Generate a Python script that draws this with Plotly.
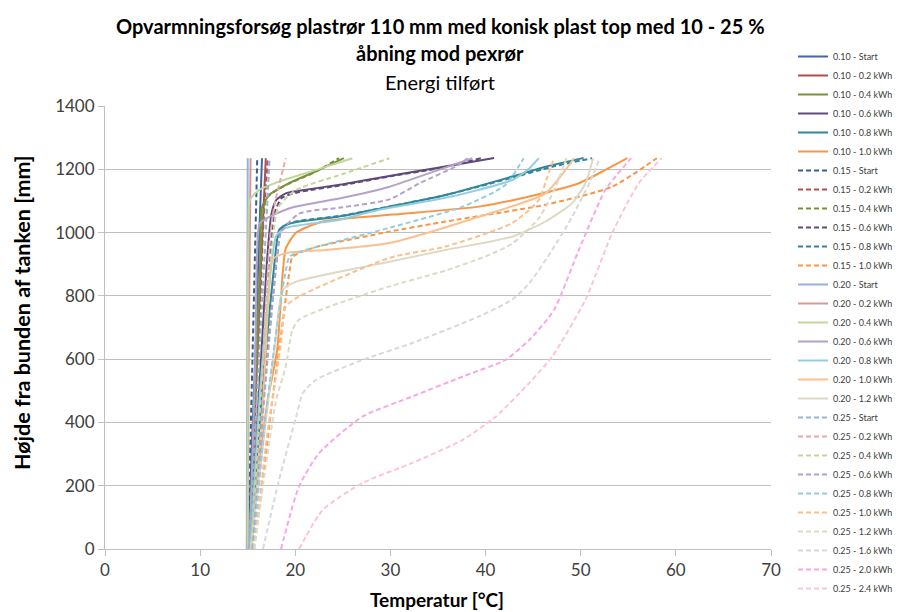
import plotly.graph_objects as go

# Temperature profiles: temperature [°C] (t_) at height above tank bottom [mm] (h_)
# 10 % opening
t_010_start = [15.1, 15.4, 15.8, 16.1, 16.5]
h_010_start = [0, 300, 600, 900, 1235]
t_010_02 = [15.2, 15.6, 16.0, 16.4, 16.7, 16.9]
h_010_02 = [0, 300, 600, 900, 1100, 1235]
t_010_04 = [15.2, 15.5, 15.9, 16.3, 16.5, 17.3, 19.4, 22.5, 25.1]
h_010_04 = [0, 300, 600, 900, 1080, 1120, 1157, 1198, 1235]
t_010_06 = [15.3, 15.8, 16.4, 17.0, 17.5, 18.0, 19.0, 20.4, 25.0, 29.9, 35.0, 40.9]
h_010_06 = [0, 300, 600, 900, 1060, 1103, 1124, 1132, 1153, 1179, 1205, 1236]
t_010_08 = [15.4, 16.0, 16.8, 17.8, 18.3, 19.0, 20.4, 24.6, 29.9, 35.8, 42.8, 46.3, 50.3]
h_010_08 = [0, 300, 600, 900, 1008, 1024, 1035, 1051, 1082, 1119, 1177, 1208, 1236]
t_010_10 = [15.4, 16.0, 17.1, 18.1, 18.7, 19.0, 20.1, 22.9, 29.9, 39.3, 44.6, 49.8, 52.6, 54.9]
h_010_10 = [0, 200, 470, 630, 880, 950, 1000, 1035, 1056, 1082, 1114, 1156, 1198, 1235]

# 15 % opening
t_015_start = [15.0, 15.5, 16.0]
h_015_start = [0, 600, 1235]
t_015_02 = [15.3, 16.1, 16.6, 17.1]
h_015_02 = [0, 600, 1000, 1235]
t_015_04 = [15.3, 16.0, 16.6, 17.0, 19.0, 22.0, 24.6]
h_015_04 = [0, 600, 1050, 1110, 1150, 1190, 1235]
t_015_06 = [15.4, 16.4, 17.3, 17.8, 18.6, 20.4, 25.0, 30.0, 35.0, 39.5]
h_015_06 = [0, 500, 900, 1060, 1110, 1128, 1150, 1178, 1203, 1235]
t_015_08 = [15.5, 16.7, 18.0, 18.5, 19.2, 20.6, 25.0, 30.0, 36.0, 43.0, 47.0, 51.2]
h_015_08 = [0, 500, 900, 1010, 1028, 1038, 1054, 1083, 1120, 1175, 1208, 1235]
t_015_10 = [15.6, 16.5, 17.5, 18.6, 19.4, 19.7, 21.8, 29.9, 35.8, 46.3, 53.3, 58.0]
h_015_10 = [0, 200, 450, 700, 880, 923, 951, 1003, 1035, 1088, 1145, 1235]

# 20 % opening
t_020_start = [14.9, 15.0]
h_020_start = [0, 1235]
t_020_02 = [15.0, 15.1, 15.3]
h_020_02 = [0, 600, 1235]
t_020_04 = [15.0, 15.0, 15.1, 15.2, 16.2, 18.3, 22.2, 26.0]
h_020_04 = [0, 800, 1050, 1103, 1135, 1161, 1198, 1235]
t_020_06 = [15.2, 15.8, 16.0, 16.3, 19.4, 25.0, 29.9, 34.1, 38.6]
h_020_06 = [0, 600, 950, 1030, 1077, 1110, 1145, 1188, 1235]
t_020_08 = [15.3, 16.3, 17.5, 18.0, 19.0, 24.6, 28.8, 35.0, 39.3, 42.8, 44.5, 45.6]
h_020_08 = [0, 500, 900, 990, 1015, 1040, 1072, 1105, 1135, 1166, 1200, 1235]
t_020_10 = [15.4, 16.5, 17.2, 17.6, 19.0, 23.2, 29.9, 39.3, 46.3, 48.4, 49.3]
h_020_10 = [0, 400, 800, 914, 935, 945, 967, 1050, 1124, 1198, 1235]
t_020_12 = [15.3, 16.5, 17.8, 18.7, 20.1, 29.9, 35.8, 42.8, 46.3, 49.1, 50.5, 51.3]
h_020_12 = [0, 300, 630, 819, 845, 908, 945, 987, 1035, 1093, 1156, 1235]

# 25 % opening
t_025_start = [15.1, 16.2, 17.3]
h_025_start = [0, 600, 1235]
t_025_02 = [15.5, 16.6, 17.4, 17.9, 19.0]
h_025_02 = [0, 600, 1000, 1100, 1235]
t_025_04 = [15.4, 16.4, 17.4, 18.2, 20.1, 25.0, 29.9]
h_025_04 = [0, 500, 900, 1080, 1135, 1185, 1235]
t_025_06 = [15.5, 16.8, 18.0, 18.5, 20.4, 25.0, 29.9, 33.0, 37.2, 38.1]
h_025_06 = [0, 500, 900, 1000, 1060, 1080, 1105, 1155, 1214, 1235]
t_025_08 = [15.6, 16.8, 18.3, 19.0, 19.4, 21.1, 29.9, 37.6, 42.1, 44.0]
h_025_08 = [0, 400, 750, 880, 924, 945, 1015, 1082, 1151, 1235]
t_025_10 = [15.7, 17.0, 18.5, 19.0, 20.4, 29.9, 35.8, 42.8, 45.6, 46.5, 47.2]
h_025_10 = [0, 350, 650, 766, 798, 920, 956, 1030, 1103, 1177, 1235]
t_025_12 = [15.7, 16.6, 18.0, 19.0, 19.7, 20.4, 23.2, 29.9, 35.8, 40.0, 42.8, 45.6, 47.3, 48.5]
h_025_12 = [0, 200, 472, 577, 693, 725, 762, 830, 880, 925, 965, 1045, 1140, 1235]
t_025_16 = [16.6, 18.3, 20.1, 20.8, 22.2, 27.1, 32.3, 39.3, 42.8, 44.6, 47.0, 49.1, 50.9, 52.0]
h_025_16 = [0, 219, 419, 493, 535, 598, 651, 735, 788, 840, 945, 1050, 1156, 1235]
t_025_20 = [18.5, 20.4, 22.5, 27.1, 32.3, 37.6, 42.1, 44.6, 47.2, 49.8, 52.6, 55.3]
h_025_20 = [0, 198, 303, 419, 482, 545, 598, 661, 756, 945, 1135, 1235]
t_025_24 = [20.4, 22.9, 27.1, 32.3, 37.6, 41.1, 44.6, 47.0, 50.5, 53.3, 56.1, 58.5]
h_025_24 = [0, 124, 209, 272, 345, 419, 525, 608, 788, 998, 1156, 1235]

series = [
    ("0.10 - Start", t_010_start, h_010_start, "#3F67A7", "solid"),
    ("0.10 - 0.2 kWh", t_010_02, h_010_02, "#B0504C", "solid"),
    ("0.10 - 0.4 kWh", t_010_04, h_010_04, "#76933C", "solid"),
    ("0.10 - 0.6 kWh", t_010_06, h_010_06, "#5F497A", "solid"),
    ("0.10 - 0.8 kWh", t_010_08, h_010_08, "#31859C", "solid"),
    ("0.10 - 1.0 kWh", t_010_10, h_010_10, "#F79646", "solid"),
    ("0.15 - Start", t_015_start, h_015_start, "#366092", "dash"),
    ("0.15 - 0.2 kWh", t_015_02, h_015_02, "#B0504C", "dash"),
    ("0.15 - 0.4 kWh", t_015_04, h_015_04, "#76933C", "dash"),
    ("0.15 - 0.6 kWh", t_015_06, h_015_06, "#5F497A", "dash"),
    ("0.15 - 0.8 kWh", t_015_08, h_015_08, "#31859C", "dash"),
    ("0.15 - 1.0 kWh", t_015_10, h_015_10, "#F79646", "dash"),
    ("0.20 - Start", t_020_start, h_020_start, "#95B3D7", "solid"),
    ("0.20 - 0.2 kWh", t_020_02, h_020_02, "#D99694", "solid"),
    ("0.20 - 0.4 kWh", t_020_04, h_020_04, "#C3D69B", "solid"),
    ("0.20 - 0.6 kWh", t_020_06, h_020_06, "#B3A2C7", "solid"),
    ("0.20 - 0.8 kWh", t_020_08, h_020_08, "#93CDDD", "solid"),
    ("0.20 - 1.0 kWh", t_020_10, h_020_10, "#FAC090", "solid"),
    ("0.20 - 1.2 kWh", t_020_12, h_020_12, "#DDD9C3", "solid"),
    ("0.25 - Start", t_025_start, h_025_start, "#95B3D7", "dash"),
    ("0.25 - 0.2 kWh", t_025_02, h_025_02, "#E6A9A7", "dash"),
    ("0.25 - 0.4 kWh", t_025_04, h_025_04, "#C3D69B", "dash"),
    ("0.25 - 0.6 kWh", t_025_06, h_025_06, "#B3A2C7", "dash"),
    ("0.25 - 0.8 kWh", t_025_08, h_025_08, "#93CDDD", "dash"),
    ("0.25 - 1.0 kWh", t_025_10, h_025_10, "#FAC090", "dash"),
    ("0.25 - 1.2 kWh", t_025_12, h_025_12, "#DDD9C3", "dash"),
    ("0.25 - 1.6 kWh", t_025_16, h_025_16, "#D9D9D9", "dash"),
    ("0.25 - 2.0 kWh", t_025_20, h_025_20, "#F7A8E4", "dash"),
    ("0.25 - 2.4 kWh", t_025_24, h_025_24, "#FFC4D2", "dash"),
]

FONT = "Lato, Carlito, Calibri, sans-serif"
N_FIRST = 15  # entries in the upper legend block, rest go to legend2

fig = go.Figure()
for i, (name, t, h, color, dash) in enumerate(series):
    fig.add_trace(go.Scatter(
        x=t, y=h, name=name, mode="lines",
        legend="legend" if i < N_FIRST else "legend2",
        line=dict(color=color, width=2, dash="5px,3px" if dash == "dash" else "solid",
                  shape="spline", smoothing=0.6),
    ))

# page has an 8px body margin; positions below are in window pixels
OFF = 8
W, H = 903 - OFF, 612 - OFF
L, R, T, B = 105, 771, 106, 549  # plot area in window pixels


def px(x):
    return (x - L) / (R - L)


def py(y):
    return (B - y) / (B - T)


annotations = [
    dict(text="<b>Opvarmningsforsøg plastrør 110 mm med konisk plast top med 10 - 25 %</b>",
         x=px(440), y=py(26), font=dict(size=20)),
    dict(text="<b>åbning mod pexrør</b>", x=px(440), y=py(53), font=dict(size=20)),
    dict(text="Energi tilført", x=px(440), y=py(82), font=dict(size=20)),
    dict(text="<b>Temperatur [°C]</b>", x=px(437), y=py(599), font=dict(size=19)),
    dict(text="<b>Højde fra bunden af tanken [mm]</b>", x=px(22), y=py(313),
         font=dict(size=21.5), textangle=-90),
]
for a in annotations:
    a.update(xref="paper", yref="paper", showarrow=False, xanchor="center", yanchor="middle")
    a["font"].update(family=FONT, color="#000000")

legend_style = dict(xanchor="left", yanchor="top", itemwidth=30, tracegroupgap=0,
                    bgcolor="rgba(0,0,0,0)",
                    font=dict(size=9, color="#404040", family=FONT))
STEP = 19  # plotly legend row height
TOP = 42

fig.update_layout(
    width=W, height=H,
    margin=dict(l=L - OFF, r=(903 - R), t=T - OFF, b=612 - B, pad=0, autoexpand=False),
    paper_bgcolor="white", plot_bgcolor="white",
    font=dict(family=FONT, color="#404040"),
    annotations=annotations,
    showlegend=True,
    legend=dict(x=px(793), y=py(TOP), **legend_style),
    legend2=dict(x=px(793), y=py(TOP + N_FIRST * STEP), **legend_style),
)
fig.update_xaxes(range=[0, 70], dtick=10, tick0=0, showgrid=False, zeroline=False,
                 showline=True, linecolor="#BFBFBF", linewidth=1,
                 ticks="outside", ticklen=6, tickcolor="#BFBFBF",
                 tickfont=dict(size=17, color="#404040"))
fig.update_yaxes(range=[0, 1400], dtick=200, tick0=0, showgrid=True, gridcolor="#BFBFBF",
                 gridwidth=1, zeroline=False, showline=True, linecolor="#BFBFBF",
                 linewidth=1, ticks="outside", ticklen=6, tickcolor="#BFBFBF",
                 tickfont=dict(size=17, color="#404040"))

fig.write_html("out.html")
